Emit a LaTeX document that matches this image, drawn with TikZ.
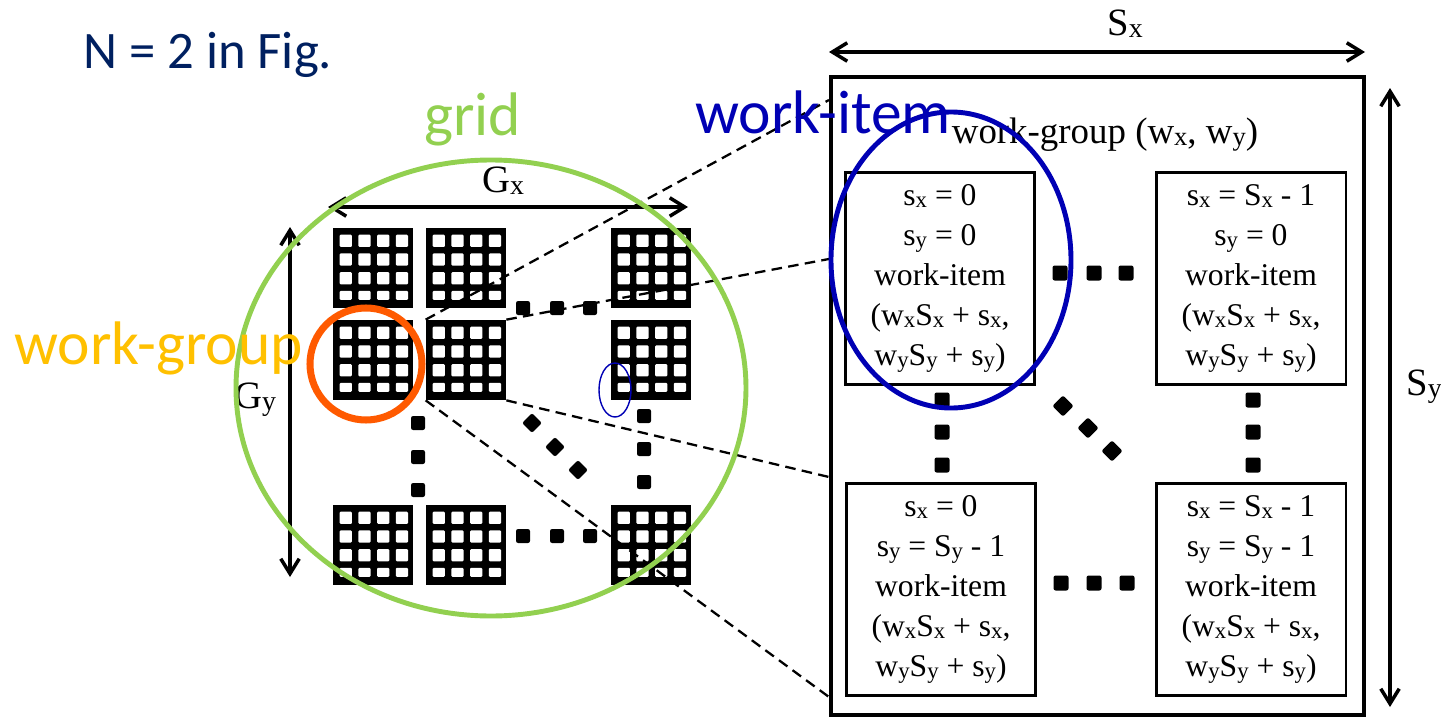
\documentclass[tikz,border=0pt]{standalone}
\usepackage{fontspec}
\setmainfont{Liberation Serif}
\newfontfamily\calibri{Carlito}
\usepackage{graphicx}
\usepackage{tikz}
\usetikzlibrary{arrows.meta}
\definecolor{navyblue}{RGB}{0,32,96}
\definecolor{gridgreen}{RGB}{146,208,80}
\definecolor{itemblue}{RGB}{0,0,180}
\definecolor{groupyellow}{RGB}{255,192,0}
\definecolor{grouporange}{RGB}{255,90,0}
\newcommand{\lowsub}[1]{\raisebox{-0.15ex}{\scalebox{0.72}{#1}}}

\begin{document}
\begin{tikzpicture}[x=0.02cm,y=-0.02cm,
  wgblock/.style={fill=black,minimum size=1.6cm,inner sep=0pt},
  dotsq/.style={fill=black,rounded corners=1.2pt,minimum size=0.28cm,inner sep=0pt},
  dotdia/.style={dotsq,rotate=45},
  bigdot/.style={dotsq,minimum size=0.3cm},
  bigdia/.style={bigdot,rotate=45},
  itembox/.style={draw,line width=1.7pt,minimum width=3.8cm,minimum height=4.24cm,align=center,inner sep=0pt,font=\fontsize{18}{22.7}\selectfont},
  dimarrow/.style={line width=2pt,{Straight Barb[length=8.5pt,width=10.5pt]}-{Straight Barb[length=8.5pt,width=10.5pt]}},
  zoomline/.style={line width=1.3pt,dash pattern=on 6pt off 3.6pt},
  dimlabel/.style={font=\fontsize{22}{26}\selectfont,inner sep=0pt,anchor=base},
  callout/.style={font=\calibri\fontsize{35}{40}\selectfont,inner sep=0pt,anchor=base west}]
    \useasboundingbox (0,0) rectangle (1441,720);

    \foreach \bx/\by [count=\k] in {333/228,426/228,611/228,333/320,426/320,611/320,333/505,426/505,611/505}{
      \node[wgblock] (wg\k) at (\bx+40,\by+40) {};
      \foreach \i in {0,...,3}{
        \foreach \j in {0,1,2}
          \fill[white,rounded corners=0.6pt] (\bx+6.7+18.7*\i,\by+6.7+18.7*\j) rectangle ++(12.2,12.2);
        \fill[white,rounded corners=0.6pt] (\bx+6.7+18.7*\i,\by+62.8) rectangle ++(12.2,9);
      }
    }
    \foreach \x/\y [count=\k] in {523/308,557/308,590/308,523/536,557/536,590/536,418/423,418/457,418/490,644/416,644/449,644/482}
      \node[dotsq] (gd\k) at (\x,\y) {};
    \foreach \x/\y [count=\k] in {532/423,555/447,578/470}
      \node[dotdia] (gdd\k) at (\x,\y) {};

    \coordinate (gxl) at (328,207);
    \coordinate (gxr) at (688,207);
    \coordinate (gyt) at (290,227);
    \coordinate (gyb) at (290,577);
    \draw[dimarrow] (gxl) -- (gxr);
    \draw[dimarrow] (gyt) -- (gyb);
    \node[dimlabel] (gxlab) at (503,192) {G\lowsub{x}};
    \node[dimlabel] (gylab) at (255,408) {G\lowsub{y}};

    \node[draw,line width=2.3pt,minimum width=10.66cm,minimum height=12.76cm,inner sep=0pt] (wgbox) at (1097.5,396) {};
    \node[font=\fontsize{21}{25}\selectfont,anchor=base,inner sep=0pt] (wghead) at (1105,143) {work-group (w\lowsub{x}, w\lowsub{y})};
    \node[itembox] (wi00) at (940,278.5) {s\lowsub{x} = 0\\ s\lowsub{y} = 0\\ work-item\\ (w\lowsub{x}S\lowsub{x} + s\lowsub{x},\\ w\lowsub{y}S\lowsub{y} + s\lowsub{y})};
    \node[itembox] (wi10) at (1251,278.5) {s\lowsub{x} = S\lowsub{x} - 1\\ s\lowsub{y} = 0\\ work-item\\ (w\lowsub{x}S\lowsub{x} + s\lowsub{x},\\ w\lowsub{y}S\lowsub{y} + s\lowsub{y})};
    \node[itembox] (wi01) at (941,589.5) {s\lowsub{x} = 0\\ s\lowsub{y} = S\lowsub{y} - 1\\ work-item\\ (w\lowsub{x}S\lowsub{x} + s\lowsub{x},\\ w\lowsub{y}S\lowsub{y} + s\lowsub{y})};
    \node[itembox] (wi11) at (1251,589.5) {s\lowsub{x} = S\lowsub{x} - 1\\ s\lowsub{y} = S\lowsub{y} - 1\\ work-item\\ (w\lowsub{x}S\lowsub{x} + s\lowsub{x},\\ w\lowsub{y}S\lowsub{y} + s\lowsub{y})};
    \foreach \x/\y [count=\k] in {1060/273,1094/273,1126/273,1061/583,1094/583,1127/583,942/400,942/432,942/465,1253/400,1253/432,1253/465}
      \node[bigdot] (bd\k) at (\x,\y) {};
    \foreach \x/\y [count=\k] in {1063/406,1088/428,1112/451}
      \node[bigdia] (bdd\k) at (\x,\y) {};

    \coordinate (sxl) at (829,52);
    \coordinate (sxr) at (1365,52);
    \coordinate (syt) at (1390,88);
    \coordinate (syb) at (1390,707);
    \draw[dimarrow] (sxl) -- (sxr);
    \draw[dimarrow] (syt) -- (syb);
    \node[dimlabel] (sxlab) at (1125,35) {S\lowsub{x}};
    \node[dimlabel] (sylab) at (1424,395) {S\lowsub{y}};

    \coordinate (z1) at (829,100);
    \coordinate (z2) at (829,259);
    \coordinate (z3) at (829,477);
    \coordinate (z4) at (829,697);
    \draw[zoomline] (wg5.north west) -- (z1);
    \draw[zoomline] (wg5.north east) -- (z2);
    \draw[zoomline] (wg5.south east) -- (z3);
    \draw[zoomline] (wg5.south west) -- (z4);

    \draw[gridgreen,line width=2.8pt] (491,388) ellipse (255 and 228);
    \draw[grouporange,line width=4pt] (366,364) circle (56);
    \draw[itemblue,line width=0.8pt] (615,390) ellipse (16 and 27);
    \draw[itemblue,line width=2.8pt] (951,260) ellipse (120 and 148);

    \node[callout,text=navyblue,font=\calibri\fontsize{30}{36}\selectfont] (nfig) at (83,68) {N = 2 in Fig.};
    \node[callout,text=gridgreen] (gridlab) at (424,135) {grid};
    \node[callout,text=itemblue] (itemlab) at (695,133) {work-item};
    \node[callout,text=groupyellow] (grouplab) at (14,364) {work-group};
\end{tikzpicture}
\end{document}
